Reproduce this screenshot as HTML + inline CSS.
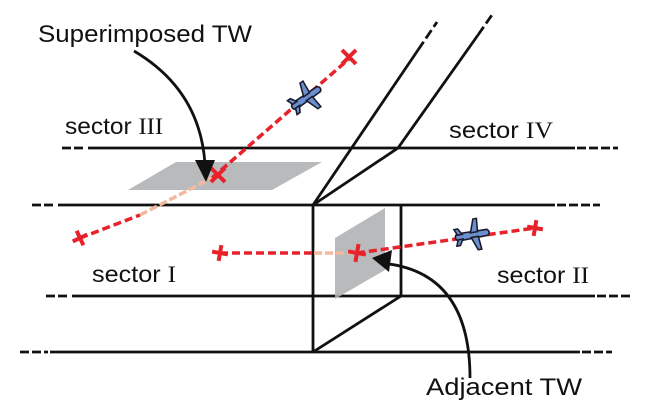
<!DOCTYPE html>
<html><head><meta charset="utf-8"><style>
html,body{margin:0;padding:0;background:#fff;}
svg{display:block;}
text{font-family:"Liberation Sans",sans-serif;fill:#111;}
</style></head><body>
<svg width="660" height="406" viewBox="0 0 660 406" xmlns="http://www.w3.org/2000/svg">
<g stroke="#111" stroke-width="2.8" fill="none">
  <line x1="88" y1="148" x2="575" y2="148"/>
  <line x1="62" y1="148" x2="86" y2="148" stroke-dasharray="9,3"/>
  <line x1="577" y1="148" x2="618" y2="148" stroke-dasharray="9,3"/>
  <line x1="58" y1="205" x2="555" y2="205"/>
  <line x1="32" y1="205" x2="56" y2="205" stroke-dasharray="9,3"/>
  <line x1="557" y1="205" x2="600" y2="205" stroke-dasharray="9,3"/>
  <line x1="72" y1="296" x2="595" y2="296"/>
  <line x1="46" y1="296" x2="70" y2="296" stroke-dasharray="9,3"/>
  <line x1="597" y1="296" x2="632" y2="296" stroke-dasharray="9,3"/>
  <line x1="50" y1="352" x2="580" y2="352"/>
  <line x1="20" y1="352" x2="48" y2="352" stroke-dasharray="9,3"/>
  <line x1="582" y1="352" x2="612" y2="352" stroke-dasharray="9,3"/>
  <line x1="313" y1="205" x2="313" y2="353"/>
  <line x1="401" y1="205" x2="401" y2="296"/>
  <line x1="313" y1="352" x2="401" y2="296"/>
  <line x1="313" y1="205" x2="418" y2="50"/>
  <line x1="418" y1="50" x2="437" y2="22" stroke-dasharray="10,4"/>
  <polyline points="313,205 398,148 478,35"/>
  <line x1="478" y1="35" x2="494" y2="12" stroke-dasharray="10,4"/>
</g>
<polygon points="128,190 176,162 322,162 272,190" fill="#b0b2b5" opacity="0.9"/>
<polygon points="335,238 385,208 385,270 335,299" fill="#b0b2b5" opacity="0.9"/>
<g stroke="#e8222a" stroke-width="3.5" fill="none" stroke-dasharray="8,4">
  <line x1="80" y1="238" x2="140" y2="215"/>
  <line x1="212" y1="178" x2="350" y2="58"/>
  <line x1="220" y1="253" x2="312" y2="253"/>
  <line x1="357" y1="253" x2="535" y2="228"/>
</g>
<g stroke="#f3b9a0" stroke-width="3.5" fill="none" stroke-dasharray="8,3">
  <line x1="140" y1="215" x2="212" y2="178"/>
  <line x1="314" y1="253" x2="357" y2="253"/>
</g>
<g stroke="#e8222a" stroke-width="4" fill="none">
  <path d="M72,238 L88,238 M80,230 L80,246" transform="rotate(-25 80 238)"/>
  <path d="M211,168 L225,182 M225,168 L211,182"/>
  <path d="M342,50 L356,64 M356,50 L342,64"/>
  <path d="M220,245 L220,261 M212,253 L228,253" transform="rotate(10 220 253)"/>
  <path d="M357,244 L357,262 M348,253 L366,253" transform="rotate(10 357 253)"/>
  <path d="M535,220 L535,236 M527,228 L543,228" transform="rotate(10 535 228)"/>
</g>
<g fill="#6b8fcf" stroke="#1a1a2a" stroke-width="1.3">
  <g transform="translate(306,98) rotate(-35) scale(1.2)">
    <path d="M-14,0 Q-14,-3 -10,-3 L13,-2.5 Q16,0 13,2.5 L-10,3 Q-14,3 -14,0 Z"/>
    <path d="M-1,-2 L3,-13 L6,-13 L5,-2 Z"/>
    <path d="M-1,2 L3,13 L6,13 L5,2 Z"/>
    <path d="M-12,-2 L-14,-7 L-11,-7 L-8,-2 Z"/>
    <path d="M-12,2 L-14,7 L-11,7 L-8,2 Z"/>
  </g>
  <g transform="translate(472,235) rotate(-10) scale(1.2)">
    <path d="M-14,0 Q-14,-3 -10,-3 L13,-2.5 Q16,0 13,2.5 L-10,3 Q-14,3 -14,0 Z"/>
    <path d="M-1,-2 L3,-13 L6,-13 L5,-2 Z"/>
    <path d="M-1,2 L3,13 L6,13 L5,2 Z"/>
    <path d="M-12,-2 L-14,-7 L-11,-7 L-8,-2 Z"/>
    <path d="M-12,2 L-14,7 L-11,7 L-8,2 Z"/>
  </g>
</g>
<g stroke="#111" stroke-width="2.8" fill="none">
  <path d="M134,51 Q200,90 205,164"/>
  <path d="M470,378 Q470,270 380,263"/>
</g>
<polygon points="195,160 215,160 206,182" fill="#111"/>
<polygon points="372,258 392,250 389,272" fill="#111"/>
<text x="38" y="42" font-size="24" textLength="214" lengthAdjust="spacingAndGlyphs">Superimposed TW</text>
<text x="65" y="134" font-size="23" textLength="98" lengthAdjust="spacingAndGlyphs">sector <tspan font-family="Liberation Serif">III</tspan></text>
<text x="449" y="138" font-size="23" textLength="104" lengthAdjust="spacingAndGlyphs">sector <tspan font-family="Liberation Serif">IV</tspan></text>
<text x="92" y="282" font-size="23" textLength="84" lengthAdjust="spacingAndGlyphs">sector <tspan font-family="Liberation Serif">I</tspan></text>
<text x="497" y="283" font-size="23" textLength="92" lengthAdjust="spacingAndGlyphs">sector <tspan font-family="Liberation Serif">II</tspan></text>
<text x="426" y="395" font-size="24" textLength="156" lengthAdjust="spacingAndGlyphs">Adjacent TW</text>
</svg>
</body></html>
